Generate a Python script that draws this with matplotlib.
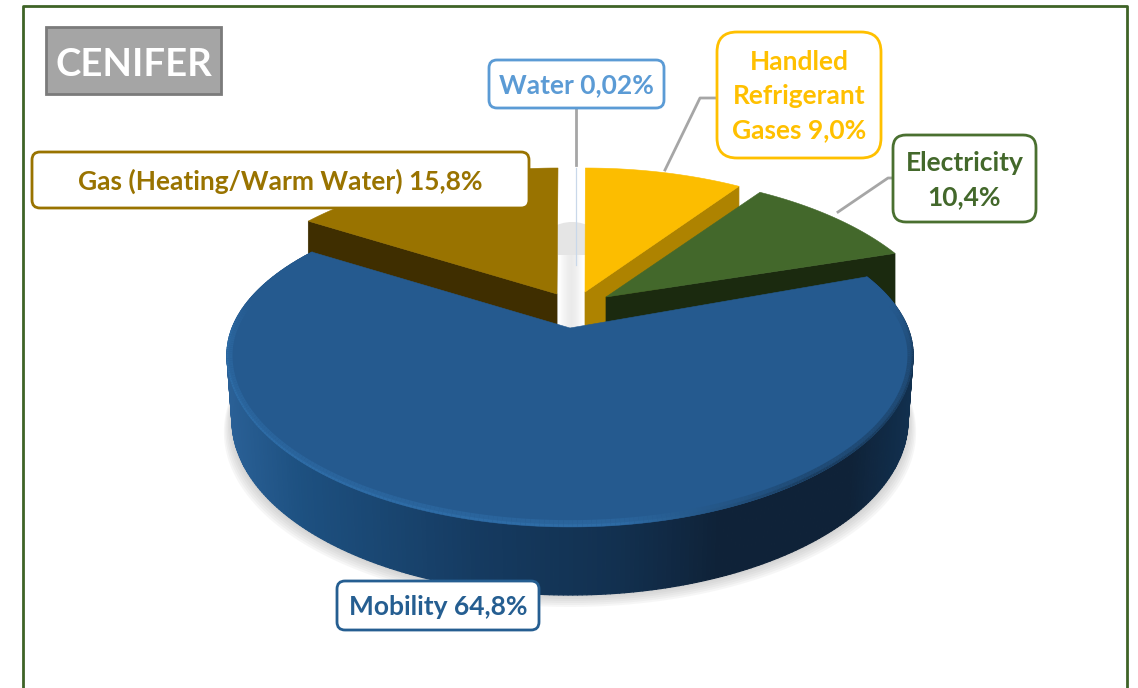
import numpy as np
import matplotlib
matplotlib.use('Agg')
import matplotlib.pyplot as plt
import matplotlib.patches as mpatches
from matplotlib.collections import PolyCollection, LineCollection
from matplotlib.colors import to_rgb

# ── DATA ───────────────────────────────────────
categories = ['Water', 'Handled Refrigerant Gases', 'Electricity', 'Mobility', 'Gas']
values = [0.02, 9.0, 10.4, 64.8, 15.8]
labels = ['Water 0,02%', 'Handled\nRefrigerant\nGases 9,0%', 'Electricity\n10,4%',
          'Mobility 64,8%', 'Gas (Heating/Warm Water) 15,8%']
title = 'CENIFER'

# ── STYLE / LAYOUT (pixels) ────────────────────
W, H = 1138, 688
top_cols = ['#dfe8f3', '#fcbd00', '#43682b', '#255a8f', '#997300']
side_cols = ['#dfe8f3', '#ae8300', '#1b2a0f', '#14365a', '#3f2e00']
edge_cols = ['#5b9bd5', '#ffc000', '#4a7030', '#255e91', '#997300']
text_cols = ['#5b9bd5', '#ffc000', '#43682b', '#255e91', '#997300']
cx = [576, 585, 606, 570, 558]
cy = [340, 340, 346, 355, 337]
apex = [(576, 265), (585, 292), (606, 297), (570, 328), (557, 294)]
b_far = [172, 172, 172, 156, 169]
warp_k = [57.5, 57.5, 57.5, 60, 57.5]
RX = 343
FONT = 'Lato'

plt.rcParams['font.family'] = [FONT, 'DejaVu Sans']
fig = plt.figure(figsize=(W / 100, H / 100), dpi=100, facecolor='white')
ax = fig.add_axes([0, 0, 1, 1])
ax.set_xlim(0, W)
ax.set_ylim(H, 0)
ax.axis('off')


# perspective: slices look narrower at the far side
def warp(i, deg):
    d = (np.asarray(deg) + 180) % 360 - 180
    return np.sign(d) * np.interp(np.abs(d), [0, 70, 180], [0, warp_k[i], 180])


def arc(i, a0, a1, n=160):
    t = np.radians(warp(i, np.linspace(a0, a1, n)))
    c = np.cos(t)
    b = np.where(c >= 0, b_far[i], 172)
    return cx[i] + RX * np.sin(t), cy[i] - b * c


def lower_rim(t):
    return 570 + 338 * np.sin(t), 420 - 175 * np.cos(t)


total = sum(values)
edges = np.concatenate([[0], np.cumsum(values)]) / total * 360

# ── SHADOWS ────────────────────────────────────
t_all = np.radians(np.linspace(0, 360, 240))
for k in range(12, 0, -2):
    xs, ys = lower_rim(t_all)
    ax.add_patch(mpatches.Polygon(np.c_[570 + (xs - 570) * (1 + k / 500), ys + k], closed=True,
                                  facecolor='#8c8c8c', edgecolor='none', alpha=0.07, zorder=1))

ax.add_patch(mpatches.Ellipse((572, 300), 110, 156, facecolor='#e5e5e5', edgecolor='none', zorder=2))
strip = np.array([[1.0, .97, .95, .93, .92, .93, .95, .98, 1.0]])
strip = np.repeat(strip[:, :, None], 3, axis=2)
ax.imshow(strip, extent=(558, 585, 332, 255), interpolation='bilinear', aspect='auto', zorder=2.5)
ax.set_xlim(0, W)
ax.set_ylim(H, 0)

# ── SLICES ─────────────────────────────────────
# inner cut faces, back slices first
for i, depth in [(4, 48), (1, 48), (2, 56)]:
    a = edges[i] if i == 4 else edges[i + 1]
    xs, ys = arc(i, a, a, n=2)
    p, q = (xs[0], ys[0]), apex[i]
    ax.add_patch(mpatches.Polygon([p, q, (q[0], q[1] + depth), (p[0], p[1] + depth)], closed=True,
                                  facecolor=side_cols[i], edgecolor=side_cols[i], lw=0.5,
                                  zorder=3 + i * 0.1 if i != 4 else 3))
    if i == 1:
        ax.add_patch(mpatches.Rectangle((apex[1][0], apex[1][1]), 22, 33, facecolor=side_cols[1],
                                        edgecolor='none', zorder=3.1))

for i in [4, 1, 2]:
    xs, ys = arc(i, edges[i], edges[i + 1])
    pts = np.r_[[apex[i]], np.c_[xs, ys]]
    ax.add_patch(mpatches.Polygon(pts, closed=True, facecolor=top_cols[i], edgecolor=top_cols[i],
                                  lw=0.4, zorder=4))

# water: so small it is only a hairline
xs, ys = arc(0, edges[0], edges[1], n=2)
ax.plot([apex[0][0], xs[0]], [apex[0][1], cy[0] - b_far[0]], color='#c9d8ea', lw=0.9, zorder=4)

# mobility, outer wall with gradient along x
m = 3
deg = warp(m, np.linspace(edges[m], edges[m + 1], 320)) % 360
t = np.radians(deg)
ux, uy = arc(m, edges[m], edges[m + 1], n=320)
lx, ly = lower_rim(t)
wall_x = [227, 300, 480, 620, 720, 850, 913]
wall_c = np.array([to_rgb(c) for c in ['#2a6096', '#1d5080', '#153a60', '#12304f', '#0f2238', '#0f2238', '#11304f']])
quads, cols = [], []
for j in range(len(t) - 1):
    quads.append([(ux[j], uy[j]), (ux[j + 1], uy[j + 1]), (lx[j + 1], ly[j + 1]), (lx[j], ly[j])])
    xm = (ux[j] + ux[j + 1]) / 2
    cols.append([np.interp(xm, wall_x, wall_c[:, c]) for c in range(3)])
ax.add_collection(PolyCollection(quads, facecolors=cols, edgecolors=cols, linewidths=0.9, zorder=5))

pts = np.r_[[apex[m]], np.c_[ux, uy]]
ax.add_patch(mpatches.Polygon(pts, closed=True, facecolor=top_cols[m], edgecolor=top_cols[m],
                              lw=0.4, zorder=6))

# bevel along the front rim: light on the left and front, dark on the right
base = np.array(to_rgb(top_cols[m]))
light = np.array(to_rgb('#2e6ca6'))
dark = np.array(to_rgb('#1a3d60'))
f = np.interp(deg[:-1], [140, 175, 275, 290], [0, 1, 1, 0])
g = np.interp(deg[:-1], [70, 90, 135, 170], [0, 1, 1, 0])
for sx, sy, lw, w in [(0.997, 0.99, 2.4, 1.0), (0.990, 0.972, 3.0, 0.55)]:
    bx = 570 + (ux - 570) * sx
    by = 355 + (uy - 355) * sy
    segs = [[(bx[j], by[j]), (bx[j + 1], by[j + 1])] for j in range(len(bx) - 1)]
    seg_c = [np.clip(base + w * (fj * (light - base) + gj * (dark - base)), 0, 1) for fj, gj in zip(f, g)]
    ax.add_collection(LineCollection(segs, colors=seg_c, linewidths=lw, zorder=7))

# ── FRAME ──────────────────────────────────────
ax.plot([23, 23, 1127, 1127], [H, 6, 6, H], color='#3f6327', lw=2, zorder=8)

# ── TITLE ──────────────────────────────────────
ax.add_patch(mpatches.Rectangle((46, 27), 175, 67, facecolor='#a5a5a5', edgecolor='#7b7b7b', lw=2, zorder=9))
ax.text(133.5, 65, title, color='white', fontsize=27.5, fontweight='bold', ha='center', va='center', zorder=10)

# ── LEADERS ────────────────────────────────────
leaders = [([576, 576], [108, 165]), ([665, 700, 717], [170, 98, 98]), ([838, 888, 893], [212, 178, 178])]
for lx_, ly_ in leaders:
    ax.plot(lx_, ly_, color='#a6a6a6', lw=2, zorder=8)

# ── LABELS ─────────────────────────────────────
boxes = [(489, 60, 175, 48, 8), (717, 32, 164, 126, 20), (893, 135, 143, 87, 13),
         (337, 581, 202, 49, 8), (32, 152, 497, 56, 8)]
for i, (bx0, by0, bw, bh, r) in enumerate(boxes):
    ax.add_patch(mpatches.FancyBboxPatch((bx0 + r, by0 + r), bw - 2 * r, bh - 2 * r,
                                         boxstyle=f'round,pad={r},rounding_size={r}',
                                         facecolor='white', edgecolor=edge_cols[i], lw=2, zorder=9))
    ax.text(bx0 + bw / 2, by0 + bh / 2 + 1.5, labels[i], color=text_cols[i], fontsize=19, fontweight='bold',
            ha='center', va='center', linespacing=1.5, zorder=10)

fig.savefig('out.png', dpi=100, facecolor='white')
